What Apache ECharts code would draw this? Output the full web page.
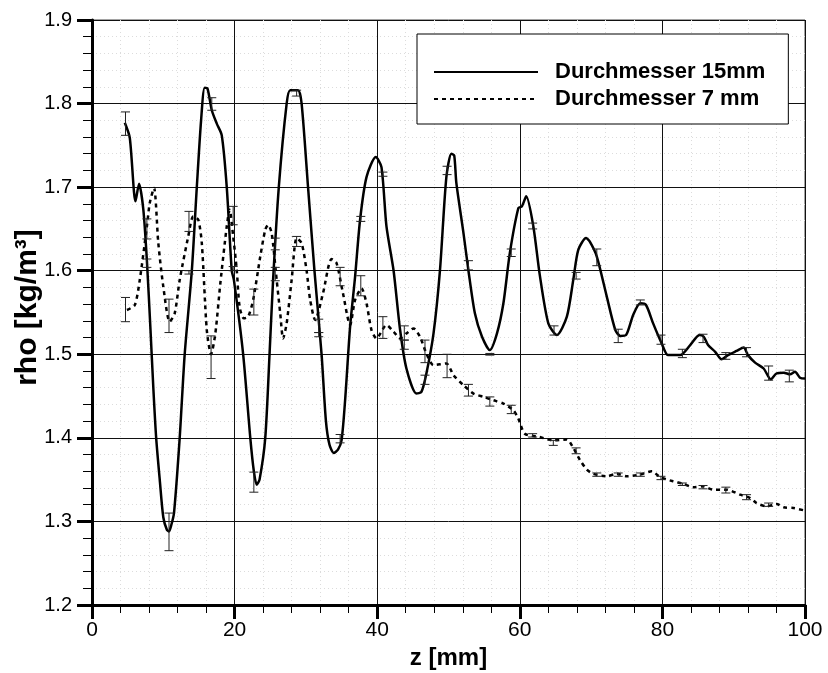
<!DOCTYPE html>
<html>
<head>
<meta charset="utf-8">
<script src="https://cdn.jsdelivr.net/npm/echarts@6/dist/echarts.min.js"></script>
<style>
html,body{margin:0;padding:0;background:#fff;}
#chart{width:828px;height:673px;}
</style>
</head>
<body>
<div id="chart"></div>
<script>
// ---- Data ----
var seriesNames = ['Durchmesser 15mm', 'Durchmesser 7 mm'];

var z15 = [4.6,5.3,6.1,6.6,7.2,7.7,8.2,8.6,9.0,9.5,10.0,10.5,10.8,11.1,11.5,12.3,13.0,14.0,14.7,15.3,15.8,16.2,16.8,17.5,18.2,18.9,19.6,19.9,21.2,22.2,22.7,23.1,23.5,24.3,24.9,25.4,26.2,27.3,27.8,28.9,29.4,30.3,31.2,32.2,32.8,33.3,33.9,34.5,35.0,35.5,36.2,36.9,37.6,38.5,39.8,40.6,41.3,42.3,43.2,44.1,45.5,46.2,46.9,47.9,48.8,49.7,50.4,50.8,51.1,52.1,52.8,53.7,54.7,55.8,56.8,57.7,58.6,59.8,60.3,60.9,61.9,62.8,64.0,65.2,66.6,67.5,68.2,69.3,69.8,70.8,72.2,73.4,74.1,74.9,75.9,76.9,77.7,78.7,79.9,80.8,82.5,83.9,85.2,85.8,86.4,87.4,88.3,89.2,90.4,91.4,92.0,93.0,94.2,95.2,96.0,97.0,97.9,98.6,99.3,100];
var rho15 = [1.777,1.759,1.683,1.704,1.673,1.612,1.530,1.460,1.400,1.350,1.305,1.290,1.288,1.295,1.310,1.400,1.500,1.600,1.700,1.780,1.819,1.818,1.792,1.776,1.762,1.700,1.600,1.589,1.500,1.400,1.360,1.344,1.350,1.400,1.500,1.589,1.700,1.800,1.816,1.816,1.800,1.700,1.600,1.500,1.421,1.392,1.382,1.386,1.397,1.445,1.533,1.593,1.661,1.712,1.736,1.724,1.653,1.600,1.530,1.483,1.453,1.455,1.477,1.525,1.600,1.712,1.740,1.738,1.705,1.645,1.600,1.549,1.521,1.505,1.525,1.561,1.621,1.675,1.677,1.689,1.653,1.595,1.537,1.523,1.545,1.589,1.625,1.639,1.635,1.617,1.569,1.529,1.522,1.523,1.547,1.561,1.559,1.537,1.513,1.499,1.499,1.511,1.523,1.521,1.511,1.503,1.494,1.499,1.504,1.508,1.499,1.490,1.483,1.470,1.477,1.478,1.476,1.479,1.472,1.471];

var z7 = [4.9,6.0,6.7,7.7,8.1,8.7,9.3,10.0,10.9,11.6,12.3,13.5,14.2,14.9,15.4,16.1,16.7,17.3,18.0,18.9,19.3,19.8,20.3,20.7,21.3,21.9,22.6,23.6,24.3,24.7,25.2,25.9,26.4,26.8,27.3,28.0,28.7,29.4,30.1,30.6,31.3,32.4,33.6,34.3,35.2,36.2,36.9,37.8,38.5,39.2,39.9,41.3,42.3,43.2,44.1,45.1,46.0,46.9,47.9,49.7,50.7,52.1,53.5,54.9,56.3,57.7,59.1,59.8,60.7,62.8,64.7,66.6,67.5,68.4,69.4,70.3,72.2,73.6,75.0,76.9,78.5,79.7,81.5,82.9,84.3,85.7,87.1,89.0,90.9,92.3,93.2,94.6,96.0,97.0,98.4,100];
var rho7 = [1.553,1.559,1.589,1.653,1.681,1.699,1.633,1.581,1.539,1.549,1.589,1.641,1.665,1.661,1.633,1.529,1.500,1.525,1.585,1.653,1.673,1.641,1.601,1.557,1.543,1.545,1.565,1.617,1.649,1.655,1.645,1.589,1.549,1.519,1.537,1.589,1.639,1.633,1.600,1.565,1.541,1.573,1.614,1.609,1.573,1.535,1.565,1.579,1.561,1.529,1.519,1.535,1.527,1.519,1.525,1.531,1.521,1.501,1.487,1.489,1.475,1.463,1.453,1.449,1.445,1.441,1.433,1.423,1.405,1.401,1.397,1.398,1.388,1.374,1.362,1.357,1.354,1.357,1.354,1.356,1.360,1.353,1.348,1.345,1.341,1.342,1.338,1.338,1.332,1.328,1.322,1.318,1.321,1.317,1.316,1.313];

// error bars
var err15Z    = [4.7,7.7,10.8,13.6,16.8,19.8,22.7,25.7,28.7,31.8,34.8,37.7,40.8,43.8,46.7,49.8,52.8,55.8,58.8,61.8,64.8,67.9,70.8,73.8,76.9,79.8,82.8,85.7,88.9,91.8,94.9,97.8];
var err15Low  = [1.762,1.604,1.265,1.596,1.792,1.600,1.335,1.588,1.809,1.521,1.394,1.659,1.713,1.506,1.464,1.715,1.601,1.499,1.617,1.650,1.523,1.590,1.606,1.514,1.559,1.512,1.496,1.514,1.494,1.497,1.469,1.467];
var err15High = [1.790,1.614,1.310,1.600,1.807,1.605,1.359,1.604,1.816,1.526,1.404,1.665,1.718,1.517,1.475,1.725,1.612,1.501,1.626,1.657,1.534,1.598,1.626,1.530,1.565,1.523,1.506,1.524,1.502,1.508,1.486,1.481];

var err7Z    = [4.7,7.7,10.8,13.6,16.7,19.8,22.7,25.7,28.7,31.8,34.8,37.7,40.8,43.8,46.7,49.8,52.8,55.8,58.8,61.8,64.7,67.9,70.8,73.8,76.9,79.8,82.8,85.7,88.9,91.8,94.9];
var err7Low  = [1.539,1.638,1.526,1.647,1.471,1.655,1.547,1.625,1.629,1.526,1.582,1.570,1.519,1.517,1.490,1.472,1.450,1.438,1.429,1.401,1.391,1.381,1.354,1.354,1.354,1.350,1.343,1.339,1.334,1.326,1.318];
var err7High = [1.568,1.662,1.566,1.671,1.522,1.677,1.578,1.639,1.641,1.542,1.604,1.594,1.545,1.534,1.517,1.500,1.464,1.449,1.439,1.405,1.397,1.388,1.358,1.358,1.358,1.354,1.346,1.343,1.341,1.332,1.322];

var xTicks = {min: 0, max: 100, interval: 20};
var yTicks = {min: 1.2, max: 1.9, interval: 0.1};

// ---- Build ----
function pairs(xs, ys){ return xs.map(function(x,i){ return [x, ys[i]]; }); }
function triples(xs, lo, hi){ return xs.map(function(x,i){ return [x, lo[i], hi[i]]; }); }

function errRender(params, api){
  var x = api.value(0);
  var p1 = api.coord([x, api.value(1)]);
  var p2 = api.coord([x, api.value(2)]);
  var hw = 4.5;
  var st = {stroke: '#222', lineWidth: 1};
  return {type: 'group', children: [
    {type: 'line', shape: {x1: p1[0], y1: p1[1], x2: p2[0], y2: p2[1]}, style: st},
    {type: 'line', shape: {x1: p1[0]-hw, y1: p1[1], x2: p1[0]+hw, y2: p1[1]}, style: st},
    {type: 'line', shape: {x1: p2[0]-hw, y1: p2[1], x2: p2[0]+hw, y2: p2[1]}, style: st}
  ]};
}

var chart = echarts.init(document.getElementById('chart'), null, {renderer: 'canvas'});
var font = '"Liberation Sans", Arial, Helvetica, sans-serif';

chart.setOption({
  animation: false,
  backgroundColor: '#fff',
  textStyle: {fontFamily: font, color: '#000'},
  grid: {left: 92, top: 20, width: 713, height: 585, show: true, borderColor: '#444', borderWidth: 1, backgroundColor: 'transparent', containLabel: false, outerBoundsMode: 'none'},
  legend: {
    data: seriesNames,
    orient: 'vertical',
    left: 417, top: 34,
    padding: [26, 23, 13, 16],
    itemGap: 3,
    itemWidth: 104,
    itemHeight: 14,
    backgroundColor: '#fff',
    borderColor: '#000',
    borderWidth: 1,
    selectedMode: false,
    itemStyle: {color: 'transparent', borderWidth: 0, opacity: 0},
    textStyle: {fontFamily: font, fontWeight: 'bold', fontSize: 22, color: '#000', lineHeight: 24, padding: [0, 0, 0, 12]}
  },
  xAxis: {
    type: 'value', min: xTicks.min, max: xTicks.max, interval: xTicks.interval,
    name: 'z [mm]', nameLocation: 'middle', nameGap: 37,
    nameTextStyle: {fontFamily: font, fontWeight: 'bold', fontSize: 24, color: '#000'},
    axisLine: {show: true, onZero: false, lineStyle: {color: '#000', width: 3}},
    axisTick: {show: true, inside: false, length: 14, lineStyle: {color: '#000', width: 3}},
    minorTick: {show: true, splitNumber: 5, length: 8, lineStyle: {color: '#000', width: 1}},
    axisLabel: {fontFamily: font, fontSize: 21, color: '#000', margin: 15},
    splitLine: {show: true, lineStyle: {color: '#111', width: 1}},
    minorSplitLine: {show: true, lineStyle: {color: '#dcdcdc', width: 1, type: [1, 3]}}
  },
  yAxis: {
    type: 'value', min: yTicks.min, max: yTicks.max, interval: yTicks.interval,
    name: 'rho [kg/m³]', nameLocation: 'middle', nameGap: 49, nameRotate: 90, nameMoveOverlap: false,
    nameTextStyle: {fontFamily: font, fontWeight: 'bold', fontSize: 30, color: '#000', padding: [0, 0, 0, 10]},
    axisLine: {show: true, onZero: false, lineStyle: {color: '#000', width: 3}},
    axisTick: {show: true, inside: false, length: 15, lineStyle: {color: '#000', width: 3}},
    minorTick: {show: true, splitNumber: 5, length: 9, lineStyle: {color: '#000', width: 1}},
    axisLabel: {fontFamily: font, fontSize: 20, color: '#000', margin: 20, formatter: function(v){ return v.toFixed(1); }},
    splitLine: {show: true, lineStyle: {color: '#111', width: 1}},
    minorSplitLine: {show: true, lineStyle: {color: '#dcdcdc', width: 1, type: [1, 3]}}
  },
  series: [
    {name: seriesNames[0], type: 'line', data: pairs(z15, rho15), symbol: 'none', smooth: 0.25,
     lineStyle: {color: '#000', width: 2.5, type: 'solid'}, itemStyle: {color: '#000'}, z: 3},
    {name: seriesNames[1], type: 'line', data: pairs(z7, rho7), symbol: 'none', smooth: 0.25,
     lineStyle: {color: '#000', width: 2.5, type: [4, 4]}, itemStyle: {color: '#000'}, z: 3},
    {name: 'err15', type: 'custom', renderItem: errRender, data: triples(err15Z, err15Low, err15High), z: 4, encode: {x: 0, y: [1, 2]}},
    {name: 'err7', type: 'custom', renderItem: errRender, data: triples(err7Z, err7Low, err7High), z: 4, encode: {x: 0, y: [1, 2]}}
  ]
});
</script>
</body>
</html>
